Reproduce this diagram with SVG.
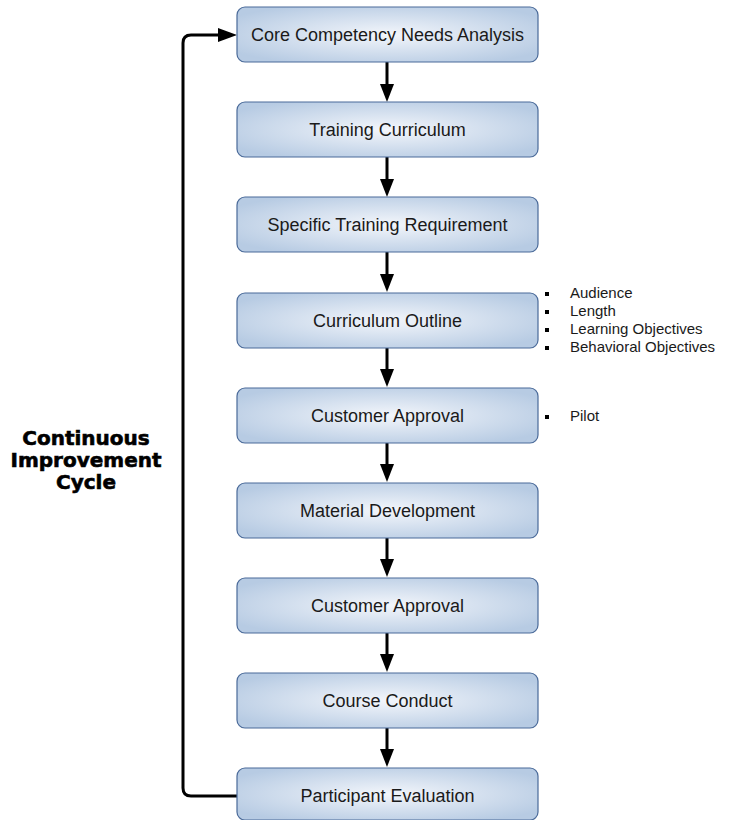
<svg xmlns="http://www.w3.org/2000/svg" width="732" height="820" viewBox="0 0 732 820">
<style>
.box{fill:url(#g);stroke:#4a6a99;stroke-width:1.2}
.lbl{font-family:"Liberation Sans",Arial,sans-serif;font-size:18px;fill:#1a1a1a;text-anchor:middle}
.note{font-family:"Liberation Sans",Arial,sans-serif;font-size:15px;fill:#1a1a1a}
.conn{stroke:#000;stroke-width:3;fill:none}
.big{font-family:"DejaVu Sans",sans-serif;font-weight:bold;font-size:20px;fill:#000;stroke:#000;stroke-width:0.6;text-anchor:middle}
</style>
<defs>
<radialGradient id="g" cx="0.5" cy="0.5" r="0.6" fx="0.5" fy="0.5">
<stop offset="0" stop-color="#f3f6fb"/>
<stop offset="1" stop-color="#b7cbe3"/>
</radialGradient>
</defs>
<g id="connectors">
<path class="conn" d="M387,62 V88" /><path d="M380,84 L394,84 L387,102 z"/>
<path class="conn" d="M387,157 V183" /><path d="M380,179 L394,179 L387,197 z"/>
<path class="conn" d="M387,252 V278" /><path d="M380,274 L394,274 L387,292 z"/>
<path class="conn" d="M387,348 V374" /><path d="M380,369 L394,369 L387,387 z"/>
<path class="conn" d="M387,443 V469" /><path d="M380,464 L394,464 L387,482 z"/>
<path class="conn" d="M387,538 V564" /><path d="M380,559 L394,559 L387,577 z"/>
<path class="conn" d="M387,633 V659" /><path d="M380,654 L394,654 L387,672 z"/>
<path class="conn" d="M387,728 V754" /><path d="M380,749 L394,749 L387,767 z"/>
<path class="conn" d="M237,796 H191 Q183,796 183,788 V43 Q183,35 191,35 H222" />
<path d="M218,28 L237,35 L218,42 z"/>
</g>
<g id="n1"><rect class="box" x="237" y="7" width="301" height="55" rx="8"/><text class="lbl" x="387.5" y="41">Core Competency Needs Analysis</text></g>
<g id="n2"><rect class="box" x="237" y="102" width="301" height="55" rx="8"/><text class="lbl" x="387.5" y="136">Training Curriculum</text></g>
<g id="n3"><rect class="box" x="237" y="197" width="301" height="55" rx="8"/><text class="lbl" x="387.5" y="231">Specific Training Requirement</text></g>
<g id="n4"><rect class="box" x="237" y="293" width="301" height="55" rx="8"/><text class="lbl" x="387.5" y="327">Curriculum Outline</text></g>
<g id="n5"><rect class="box" x="237" y="388" width="301" height="55" rx="8"/><text class="lbl" x="387.5" y="422">Customer Approval</text></g>
<g id="n6"><rect class="box" x="237" y="483" width="301" height="55" rx="8"/><text class="lbl" x="387.5" y="517">Material Development</text></g>
<g id="n7"><rect class="box" x="237" y="578" width="301" height="55" rx="8"/><text class="lbl" x="387.5" y="612">Customer Approval</text></g>
<g id="n8"><rect class="box" x="237" y="673" width="301" height="55" rx="8"/><text class="lbl" x="387.5" y="707">Course Conduct</text></g>
<g id="n9"><rect class="box" x="237" y="768" width="301" height="52" rx="8"/><text class="lbl" x="387.5" y="802">Participant Evaluation</text></g>
<g id="notes">
<rect x="545" y="292" width="4" height="4"/><text class="note" x="570" y="298">Audience</text>
<rect x="545" y="310" width="4" height="4"/><text class="note" x="570" y="316">Length</text>
<rect x="545" y="328" width="4" height="4"/><text class="note" x="570" y="334">Learning Objectives</text>
<rect x="545" y="346" width="4" height="4"/><text class="note" x="570" y="352">Behavioral Objectives</text>
<rect x="545" y="415" width="4" height="4"/><text class="note" x="570" y="421">Pilot</text>
</g>
<g id="cycle-label">
<text class="big" x="86" y="445">Continuous</text>
<text class="big" x="86" y="467">Improvement</text>
<text class="big" x="86" y="489">Cycle</text>
</g>
</svg>
